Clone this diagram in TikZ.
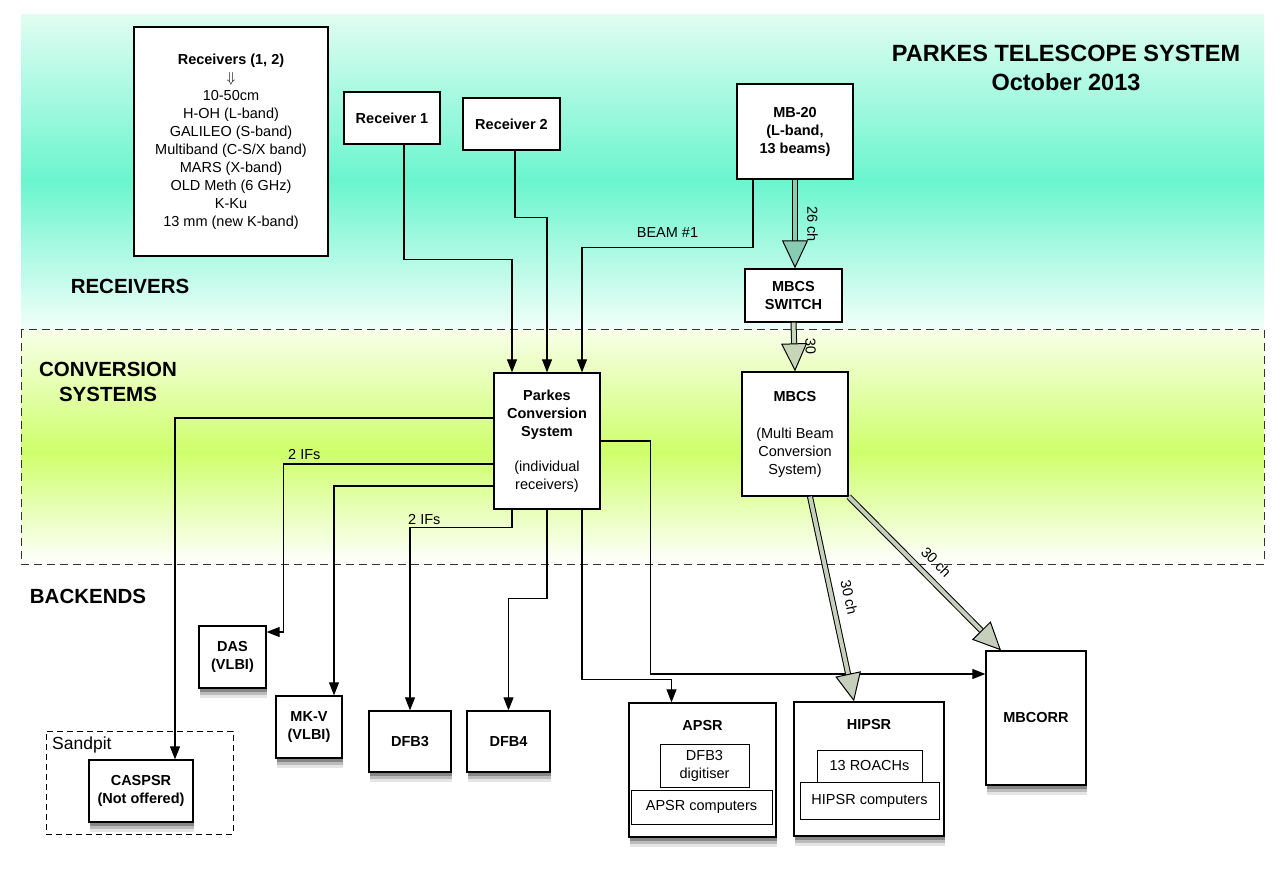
\documentclass[tikz,border=0pt]{standalone}
\usepackage{amsmath,amssymb}
\usepackage{fontspec}
\setmainfont{Liberation Sans}
\usepackage{tikz}
\usetikzlibrary{arrows.meta,positioning}

\definecolor{rxtop}{RGB}{224,253,242}
\definecolor{rxband}{RGB}{106,245,205}
\definecolor{rxbot}{RGB}{242,255,250}
\definecolor{cvtop}{RGB}{248,255,232}
\definecolor{cvband}{RGB}{206,255,106}
\definecolor{fatA}{RGB}{136,204,180}
\definecolor{fatB}{RGB}{200,214,184}
\definecolor{fatC}{RGB}{198,206,188}
\newcommand{\boxfont}{\fontsize{14.5}{18}\selectfont}

\begin{document}
\begin{tikzpicture}[
    x=1pt, y=-1pt,
    box_style/.style={draw, line width=1.3pt, fill=white, align=center, inner sep=0pt, font=\boxfont},
    backend_style/.style={box_style, font=\boxfont\bfseries,
        preaction={fill=black, opacity=0.10, transform canvas={xshift=1pt, yshift=-10pt}},
        preaction={fill=black, opacity=0.18, transform canvas={xshift=1pt, yshift=-7pt}},
        preaction={fill=black, opacity=0.28, transform canvas={xshift=1pt, yshift=-4pt}}},
    sig_style/.style={line width=1.1pt, -{Triangle[length=13pt, width=10pt]}},
    fat_style/.style={double=#1, double distance=4pt, line width=1pt, -{Triangle[length=28pt, width=26pt, fill=#1, line width=1pt]}},
    band_style/.style={font=\bfseries\fontsize{20.5}{25}\selectfont, align=center}
]
\useasboundingbox (0,0) rectangle (1280,874);
\fill[white] (0,0) rectangle (1280,874);

% Background bands
\shade[top color=rxtop, bottom color=rxband] (21,15) rectangle (1264,181);
\shade[top color=rxband, bottom color=rxbot] (21,180) rectangle (1264,330);
\shade[top color=cvtop, bottom color=cvband] (21,330) rectangle (1264,453);
\shade[top color=cvband, bottom color=white] (21,452) rectangle (1264,564);
\draw[black!80, line width=1pt, dash pattern=on 8pt off 5pt] (21,330) rectangle (1264,564);

\node[font=\bfseries\fontsize{23.5}{29}\selectfont, align=center] (title) at (1066,68) {PARKES TELESCOPE SYSTEM\\October 2013};
\node[band_style] (rx_lbl) at (130,286) {RECEIVERS};
\node[band_style] (cv_lbl) at (108,381.5) {CONVERSION\\SYSTEMS};
\node[band_style] (be_lbl) at (88,596) {BACKENDS};

% Receivers
\node[box_style, minimum width=194, minimum height=229] (rxlist) at (231,141.5)
    {\textbf{Receivers (1, 2)}\\$\Downarrow$\\10-50cm\\H-OH (L-band)\\GALILEO (S-band)\\Multiband (C-S/X band)\\MARS (X-band)\\OLD Meth (6 GHz)\\K-Ku\\13 mm (new K-band)};
\node[box_style, font=\boxfont\bfseries, minimum width=96, minimum height=52] (rx1) at (392,118) {Receiver 1};
\node[box_style, font=\boxfont\bfseries, minimum width=97, minimum height=52] (rx2) at (511.5,124) {Receiver 2};
\node[box_style, font=\boxfont\bfseries, minimum width=116, minimum height=95] (mb20) at (795,131.5) {MB-20\\(L-band,\\13 beams)};
\node[box_style, font=\boxfont\bfseries, minimum width=97, minimum height=53] (switch) at (793.5,295.5) {MBCS\\SWITCH};

% Conversion systems
\node[box_style, minimum width=106, minimum height=136] (pcs) at (547,441)
    {\textbf{Parkes}\\\textbf{Conversion}\\\textbf{System}\\[17pt](individual\\receivers)};
\node[box_style, minimum width=106, minimum height=124] (mbcs) at (795,434)
    {\textbf{MBCS}\\[19pt](Multi Beam\\Conversion\\System)};

% Backends
\node[draw, line width=1pt, dash pattern=on 6pt off 4pt, minimum width=187, minimum height=103] (sandpit) at (139.5,782.5) {};
\node[anchor=west, font=\fontsize{17.5}{20}\selectfont, inner sep=0pt] (sandpit_lbl) at (52,745) {Sandpit};
\node[backend_style, minimum width=104, minimum height=62] (caspsr) at (141,791) {CASPSR\\(Not offered)};
\node[backend_style, minimum width=67, minimum height=62] (das) at (232.5,657) {DAS\\(VLBI)};
\node[backend_style, minimum width=66, minimum height=62] (mkv) at (309,727) {MK-V\\(VLBI)};
\node[backend_style, minimum width=82, minimum height=61] (dfb3) at (410,741.5) {DFB3};
\node[backend_style, minimum width=83, minimum height=61] (dfb4) at (508.5,741.5) {DFB4};
\node[backend_style, minimum width=147, minimum height=134] (apsr) at (702.5,770) {};
\node[font=\boxfont\bfseries] (apsr_title) at (702.5,726) {APSR};
\node[box_style, line width=1pt, minimum width=89, minimum height=43] (apsr_dfb) at (704.5,765.5) {DFB3\\digitiser};
\node[box_style, line width=1pt, minimum width=141, minimum height=34] (apsr_cpu) at (701.5,807) {APSR computers};
\node[backend_style, minimum width=150, minimum height=134] (hipsr) at (869,769) {};
\node[font=\boxfont\bfseries] (hipsr_title) at (869,725) {HIPSR};
\node[box_style, line width=1pt, minimum width=105, minimum height=32] (roach) at (869.5,766) {13 ROACHs};
\node[box_style, line width=1pt, minimum width=139, minimum height=37] (hipsr_cpu) at (869.5,800.5) {HIPSR computers};
\node[backend_style, minimum width=100, minimum height=134] (mbcorr) at (1036,718) {MBCORR};

% Signal paths into the Parkes conversion system
\draw[sig_style] ([xshift=12]rx1.south) -- ++(0,115) -| ([xshift=-35]pcs.north);
\draw[sig_style] ([xshift=3.5]rx2.south) -- ++(0,67) -| (pcs.north);
\draw[sig_style] ([xshift=-42]mb20.south) -- ++(0,68) -| node[above=6pt, pos=0.25, font=\boxfont]{BEAM \#1} ([xshift=35]pcs.north);

% Signal paths out to the backends
\draw[sig_style] ([yshift=23]pcs.west) -| ([xshift=34]caspsr.north);
\draw[sig_style] ([yshift=-23]pcs.west) -| node[above, pos=0.45, font=\boxfont]{2 IFs} ++(-210,168) -- ([yshift=25]das.east);
\draw[sig_style] ([yshift=-45]pcs.west) -| ([xshift=25]mkv.north);
\draw[sig_style] ([xshift=-35]pcs.south) -- ++(0,18) -| node[above, inner sep=2pt, pos=0.43, font=\boxfont]{2 IFs} (dfb3.north);
\draw[sig_style] (pcs.south) -- ++(0,89) -| (dfb4.north);
\draw[sig_style] ([xshift=35]pcs.south) -- ++(0,170) -| ([xshift=-31]apsr.north);
\draw[sig_style] (pcs.east) -| ++(50,233) -- ([yshift=44]mbcorr.west);

% Multibeam channels
\draw[fat_style=fatA] (mb20.south) -- (mb20.south |- switch.north) node[midway, sloped, above=8.5pt, font=\boxfont]{26 ch};
\draw[fat_style=fatB] (switch.south) -- (mbcs.north) node[midway, sloped, above=7.5pt, font=\boxfont]{30};
\draw[fat_style=fatC] ([xshift=15]mbcs.south) -- ([xshift=-15]hipsr.north) node[pos=0.51, sloped, above=8pt, font=\boxfont]{30 ch};
\draw[fat_style=fatC] (mbcs.south east) -- ([xshift=-35]mbcorr.north) node[midway, sloped, above=7pt, font=\boxfont]{30 ch};

\end{tikzpicture}
\end{document}
